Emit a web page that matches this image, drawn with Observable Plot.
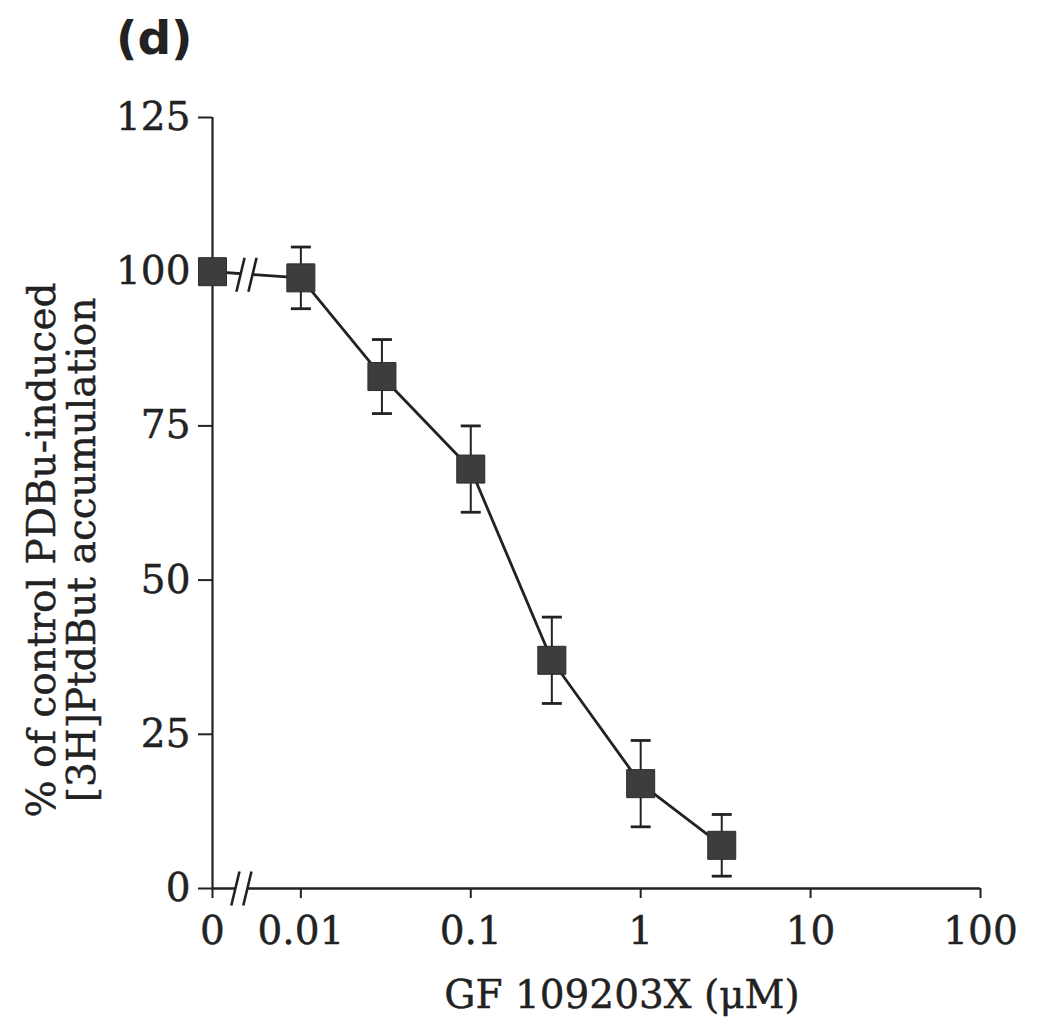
<!DOCTYPE html>
<html><head><meta charset="utf-8">
<script src="https://cdn.jsdelivr.net/npm/d3@7"></script>
<script src="https://cdn.jsdelivr.net/npm/@observablehq/plot@0.6"></script>
<style>
body{margin:0;background:#fff;}
#wrap{position:relative;width:1038px;height:1028px;background:#fff;}
#panel{position:absolute;left:116px;top:14px;font-family:"DejaVu Sans";font-weight:bold;font-size:47px;color:#222;line-height:1;}
#chart{position:absolute;left:0;top:0;}
#chart svg text{stroke:#222;stroke-width:0.45px;}
</style></head><body>
<div id="wrap"><div id="chart"></div><div id="panel">(d)</div></div>
<script>
// ---- data ----
const concentrations = [0, 0.01, 0.03, 0.1, 0.3, 1, 3];          // GF 109203X (µM)
const percentControl = [100, 99, 83, 68, 37, 17, 7];              // mean
const errorHigh      = [null, 104, 89, 75, 44, 24, 12];           // upper SEM
const errorLow       = [null, 94, 77, 61, 30, 10, 2];             // lower SEM
const xTickValues = [0, 0.01, 0.1, 1, 10, 100];
const xTickLabels = ["0", "0.01", "0.1", "1", "10", "100"];
const yTickValues = [0, 25, 50, 75, 100, 125];
const xTitle = "GF 109203X (\u03BCM)";
const yTitleLines = ["% of control PDBu-induced", "[3H]PtdBut accumulation"];
const panelLabel = "(d)";

// broken log axis: "0" sits to the left of 0.01 (positions in decades)
const zeroAt = -2.52;
const axisBreakAt = -2.35;
const lineBreakAt = -2.32;
const pos = v => v === 0 ? zeroAt : Math.log10(v);

const rows = concentrations.map((c, i) => ({c, px: pos(c), pct: percentControl[i], hi: errorHigh[i], lo: errorLow[i]}));
const errRows = rows.filter(d => d.hi != null);
const tickLabelFor = new Map(xTickValues.map((v, i) => [pos(v), xTickLabels[i]]));

// custom symbols
const capSymbol = {draw(ctx, size) { const r = Math.sqrt(size / Math.PI); ctx.moveTo(-r, 0); ctx.lineTo(r, 0); }};
const slashSymbol = {draw(ctx, size) { const r = Math.sqrt(size / Math.PI); ctx.moveTo(-0.24 * r, r); ctx.lineTo(0.24 * r, -r); }};
const gapSymbol = {draw(ctx, size) { const r = Math.sqrt(size / Math.PI); ctx.rect(-r, -0.8 * r, 2 * r, 1.6 * r); }};

const ink = "#222";
const breakRowsAxis = [{x: axisBreakAt, y: 0}];
const breakRowsLine = [{x: lineBreakAt, y: (percentControl[0] + percentControl[1]) / 2}];

const chart = Plot.plot({
  width: 1038, height: 1028,
  marginLeft: 212, marginRight: 58, marginTop: 117, marginBottom: 140,
  style: {fontFamily: "DejaVu Serif", fontSize: "38px", color: ink, background: "transparent"},
  x: {type: "linear", domain: [zeroAt, 2], axis: null},
  y: {domain: [0, 125], axis: null},
  marks: [
    Plot.ruleY([0], {x1: zeroAt, x2: 2, stroke: ink, strokeWidth: 2.6}),
    Plot.ruleX([zeroAt], {y1: 0, y2: 125, stroke: ink, strokeWidth: 2.2}),
    Plot.axisY({ticks: yTickValues, tickSize: 14, tickPadding: 8, stroke: ink, strokeWidth: 2, label: null, fontSize: 39}),
    Plot.axisX({ticks: xTickValues.map(pos), tickFormat: d => tickLabelFor.get(d), tickSize: 10, tickPadding: 18, stroke: ink, strokeWidth: 2, label: null, fontSize: 39}),
    Plot.line(rows, {x: "px", y: "pct", stroke: ink, strokeWidth: 2.8}),
    Plot.dot(breakRowsAxis, {x: "x", y: "y", symbol: gapSymbol, r: 6, fill: "white", stroke: "none"}),
    Plot.dot(breakRowsLine, {x: "x", y: "y", symbol: gapSymbol, r: 6, fill: "white", stroke: "none"}),
    Plot.dot(breakRowsAxis, {x: "x", y: "y", symbol: slashSymbol, r: 17, fill: "none", stroke: ink, strokeWidth: 2.6, dx: -6}),
    Plot.dot(breakRowsAxis, {x: "x", y: "y", symbol: slashSymbol, r: 17, fill: "none", stroke: ink, strokeWidth: 2.6, dx: 6}),
    Plot.dot(breakRowsLine, {x: "x", y: "y", symbol: slashSymbol, r: 17, fill: "none", stroke: ink, strokeWidth: 2.6, dx: -6}),
    Plot.dot(breakRowsLine, {x: "x", y: "y", symbol: slashSymbol, r: 17, fill: "none", stroke: ink, strokeWidth: 2.6, dx: 6}),
    Plot.ruleX(errRows, {x: "px", y1: "lo", y2: "hi", stroke: ink, strokeWidth: 2}),
    Plot.dot(errRows, {x: "px", y: "hi", symbol: capSymbol, r: 10, fill: "none", stroke: ink, strokeWidth: 2.8}),
    Plot.dot(errRows, {x: "px", y: "lo", symbol: capSymbol, r: 10, fill: "none", stroke: ink, strokeWidth: 2.8}),
    Plot.dot(rows, {x: "px", y: "pct", symbol: "square", r: 15.8, fill: "#3d3d3d", stroke: "#2c2c2c", strokeWidth: 1})
  ]
});

const svg = d3.select(chart);
svg.append("text")
  .attr("x", 622).attr("y", 1008)
  .attr("text-anchor", "middle")
  .attr("font-family", "DejaVu Serif").attr("font-size", 39).attr("fill", ink)
  .text(xTitle);
yTitleLines.forEach((line, i) => {
  svg.append("text")
    .attr("transform", `translate(${55 + i * 40},550) rotate(-90)`)
    .attr("text-anchor", "middle")
    .attr("font-family", "DejaVu Serif").attr("font-size", 39).attr("fill", ink)
    .text(line);
});
document.getElementById("chart").appendChild(chart);
document.getElementById("panel").textContent = panelLabel;
</script>
</body></html>
